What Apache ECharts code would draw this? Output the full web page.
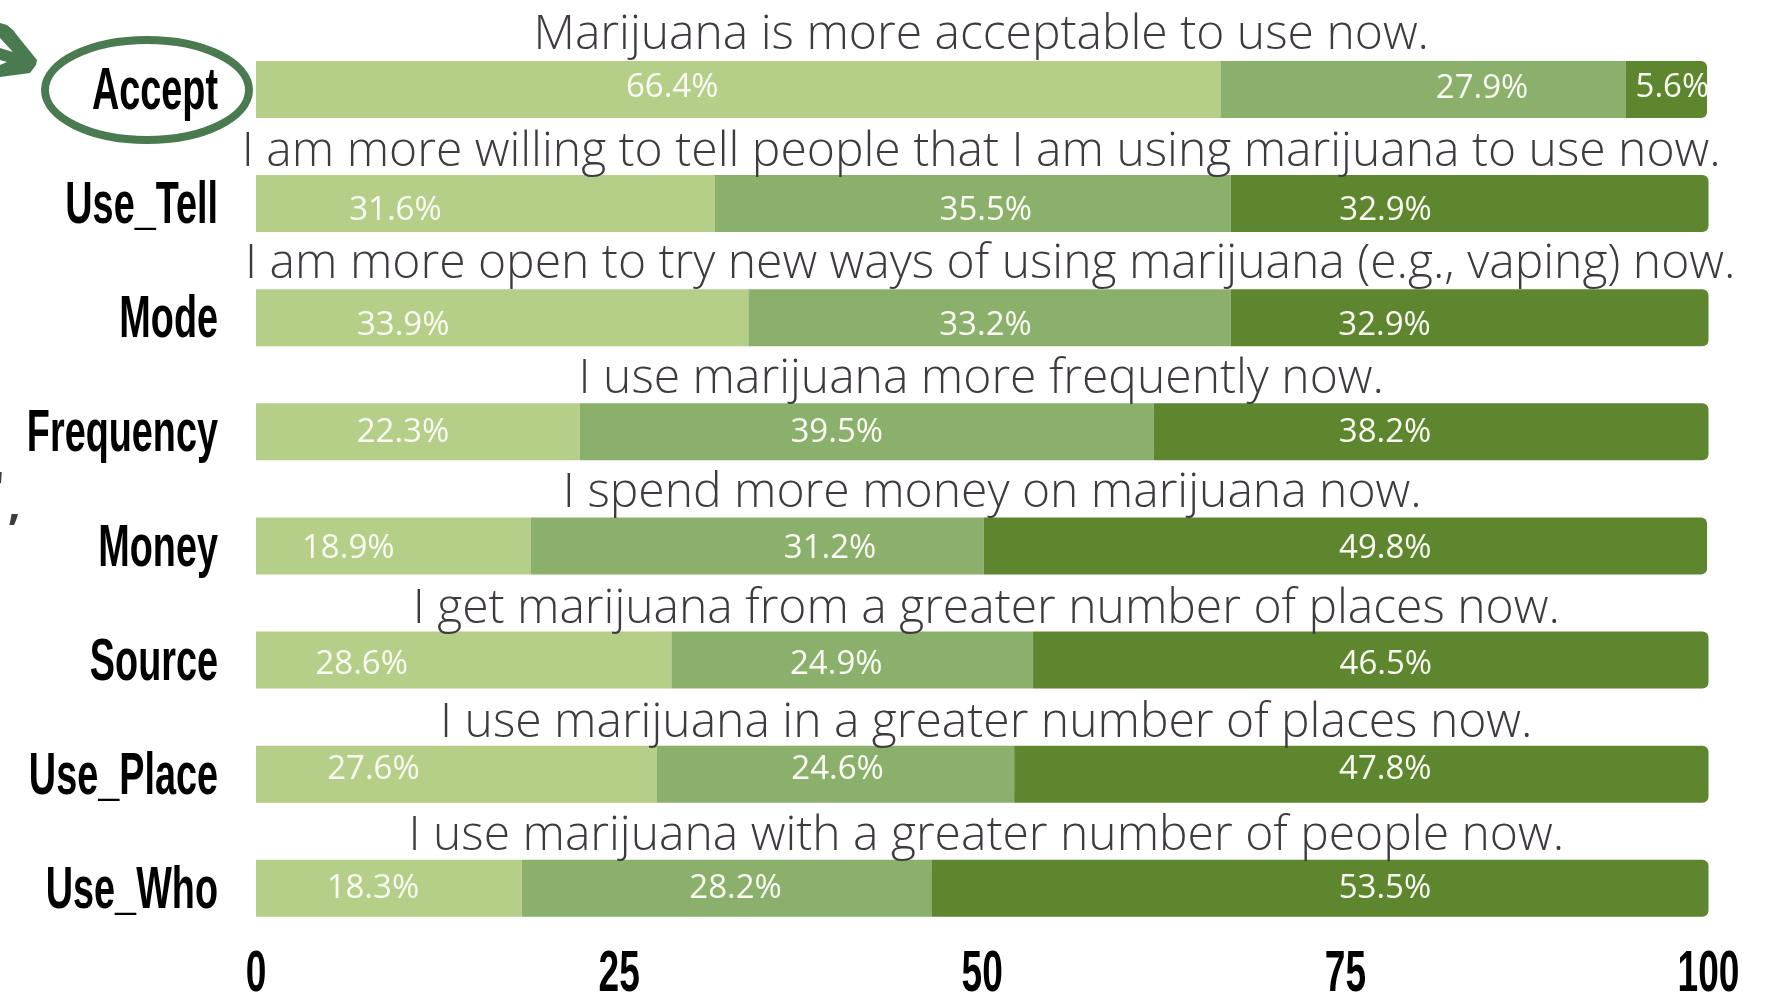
<!DOCTYPE html>
<html>
<head>
<meta charset="utf-8">
<style>html,body{margin:0;padding:0;background:#fff}#chart{width:1774px;height:997px}</style>
<script src="https://cdn.jsdelivr.net/npm/echarts@6/dist/echarts.min.js"></script>
</head>
<body>
<div id="chart"></div>
<script>
// Survey items, top to bottom
const categories = ['Accept', 'Use_Tell', 'Mode', 'Frequency', 'Money', 'Source', 'Use_Place', 'Use_Who'];
const statements = [
  'Marijuana is more acceptable to use now.',
  'I am more willing to tell people that I am using marijuana to use now.',
  'I am more open to try new ways of using marijuana (e.g., vaping) now.',
  'I use marijuana more frequently now.',
  'I spend more money on marijuana now.',
  'I get marijuana from a greater number of places now.',
  'I use marijuana in a greater number of places now.',
  'I use marijuana with a greater number of people now.'
];
const lightShare = [66.4, 31.6, 33.9, 22.3, 18.9, 28.6, 27.6, 18.3];
const middleShare = [27.9, 35.5, 33.2, 39.5, 31.2, 24.9, 24.6, 28.2];
const darkShare = [5.6, 32.9, 32.9, 38.2, 49.8, 46.5, 47.8, 53.5];
const xTicks = [0, 25, 50, 75, 100];

// Label nudges in pixels from the middle of each segment: [dx, dy]
const lightNudge = [[-66,-2],[-90,7],[-99,8],[-15,1],[-45,3],[-102,5],[-83,-5],[-16,0]];
const middleNudge = [[59,-1],[13,7],[-4,8],[-30,1],[73,3],[-16,5],[2,-5],[9,0]];
const darkNudge = [[6,-2],[-84,7],[-85,8],[-46,1],[40,3],[15,5],[24,-5],[65,0]];
// Nudge of each statement from the plot centre and its default height
const statementNudgeX = [-1, -1, 8, -1, 10, 4, 4, 4];
const statementNudgeY = [-1, 2, 0, 0, 0, 2, 2, 1];

const FONT_BODY = '"Open Sans", "Noto Sans", sans-serif';
const FONT_HEAD = '"Liberation Sans Narrow", "Liberation Sans", sans-serif';
const MARKER_GREEN = '#4a7a4f';

function stacked(name, values, color, nudge, rounded) {
  return {
    name, type: 'bar', stack: 'share', barWidth: 57, z: 2,
    itemStyle: { color, borderRadius: rounded ? [0, 6, 6, 0] : 0 },
    data: values.map((v, i) => ({
      value: v,
      label: {
        show: true, position: 'inside', formatter: v.toFixed(1) + '%',
        color: '#fbfdf5', fontFamily: FONT_BODY, fontWeight: 400, fontSize: 33,
        offset: nudge[i]
      }
    }))
  };
}

// Condensed text drawn at a data position through the coordinate system
function condensedText(items, place) {
  return {
    type: 'custom', coordinateSystem: 'cartesian2d', silent: true, z: 5, clip: false,
    data: items, encode: { x: 0, y: 1 },
    renderItem(params, api) {
      const pt = api.coord([api.value(0), api.value(1)]);
      const text = items[params.dataIndex][2];
      return {
        type: 'text', x: pt[0] + place.dx, y: pt[1] + place.dy,
        scaleX: place.scaleX, scaleY: 1,
        style: {
          text, fontFamily: FONT_HEAD, fontWeight: 'bold', fontSize: place.size,
          fill: '#000', align: place.align, verticalAlign: 'middle'
        }
      };
    }
  };
}

const chart = echarts.init(document.getElementById('chart'));
chart.setOption({
  animation: false,
  backgroundColor: '#fff',
  grid: { left: 256, right: 1774 - 1708.5, top: 32.4, height: 913 },
  xAxis: {
    type: 'value', min: 0, max: 100, interval: 25,
    axisLine: { show: false }, axisTick: { show: false }, splitLine: { show: false },
    axisLabel: { show: false }
  },
  yAxis: {
    type: 'category', inverse: true, data: categories,
    axisLine: { show: false }, axisTick: { show: false }, axisLabel: { show: false }
  },
  series: [
    stacked('Light', lightShare, '#b5cf88', lightNudge, false),
    stacked('Middle', middleShare, '#8bb06c', middleNudge, false),
    stacked('Dark', darkShare, '#5d862f', darkNudge, true),
    // Statement above each bar
    {
      type: 'custom', coordinateSystem: 'cartesian2d', silent: true, z: 6, clip: false,
      data: statements.map((s, i) => [50, i]), encode: { x: 0, y: 1 },
      renderItem(params, api) {
        const pt = api.coord([api.value(0), api.value(1)]);
        const i = params.dataIndex;
        return {
          type: 'text', x: pt[0] + statementNudgeX[i], y: pt[1] - 53 + statementNudgeY[i],
          style: {
            text: statements[i], fontFamily: FONT_BODY, fontWeight: 300,
            fontSize: 48, fill: '#3f3a40', align: 'center', verticalAlign: 'middle'
          }
        };
      }
    },
    condensedText(categories.map((c, i) => [0, i, c]), { dx: -38, dy: 3, scaleX: 0.63, size: 60, align: 'right' }),
    condensedText(xTicks.map(t => [t, 7, String(t)]), { dx: 0, dy: 87, scaleX: 0.64, size: 58, align: 'center' })
  ],
  graphic: [
    // Marker ringing the first category
    { type: 'ellipse', shape: { cx: 147, cy: 90, rx: 102, ry: 50 }, style: { fill: 'none', stroke: MARKER_GREEN, lineWidth: 8 }, z: 10 },
    // Arrow head pointing at the ring, running off the left edge
    { type: 'polygon', shape: { points: [[0,23],[7,25],[13,30],[20,39],[37,60],[36,65],[30,73],[15,75],[0,77]] }, style: { fill: MARKER_GREEN }, z: 10 },
    { type: 'polygon', shape: { points: [[0,38],[13,52],[0,48]] }, style: { fill: '#fff' }, z: 11 },
    { type: 'polygon', shape: { points: [[0,60],[7,62],[0,65]] }, style: { fill: '#fff' }, z: 11 },
    // Punctuation cut by the left margin
    { type: 'text', x: -5, y: 468, style: { text: "'", fontFamily: FONT_BODY, fontSize: 44, fill: '#3f3a40' }, z: 10 },
    { type: 'text', x: 8, y: 484, style: { text: ',', fontFamily: FONT_BODY, fontSize: 44, fontWeight: 'bold', fill: '#3f3a40' }, z: 10 }
  ]
});
</script>
</body>
</html>
